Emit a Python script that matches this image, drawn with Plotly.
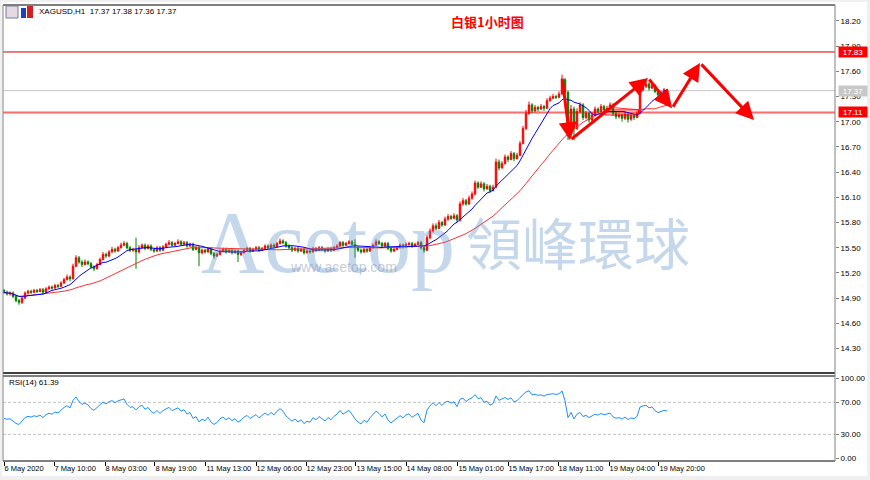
import plotly.graph_objects as go
import pandas as pd
import numpy as np

# ---------------- data ----------------
symbol_text = "XAGUSD,H1  17.37 17.38 17.36 17.37"
rsi_text = "RSI(14) 61.39"
chart_title = "白银1小时图"

open_ = [
    14.99, 14.97, 14.95, 14.96, 14.92, 14.87, 14.85, 14.90, 14.96, 14.98,
    14.97, 14.99, 14.98, 15.00, 14.97, 15.01, 15.03, 15.02, 15.05, 15.04,
    15.08, 15.12, 15.15, 15.13, 15.28, 15.38, 15.33, 15.30, 15.33, 15.31,
    15.27, 15.25, 15.30, 15.36, 15.42, 15.40, 15.45, 15.48, 15.46, 15.50,
    15.53, 15.55, 15.50, 15.47, 15.48, 15.45, 15.50, 15.53, 15.49, 15.52,
    15.48, 15.46, 15.50, 15.47, 15.51, 15.54, 15.56, 15.53, 15.55, 15.57,
    15.54, 15.56, 15.52, 15.54, 15.48, 15.50, 15.44, 15.47, 15.45, 15.49,
    15.43, 15.40, 15.42, 15.46, 15.48, 15.45, 15.47, 15.44, 15.46, 15.42,
    15.44, 15.47, 15.49, 15.46, 15.48, 15.50, 15.47, 15.49, 15.52, 15.50,
    15.53, 15.51, 15.55, 15.58, 15.56, 15.52, 15.50, 15.47, 15.49, 15.46,
    15.48, 15.44, 15.46, 15.45, 15.49, 15.47, 15.50, 15.48, 15.46, 15.49,
    15.47, 15.50, 15.52, 15.56, 15.53, 15.55, 15.57, 15.54, 15.50, 15.47,
    15.45, 15.48, 15.46, 15.50, 15.53, 15.57, 15.55, 15.52, 15.55, 15.49,
    15.46, 15.48, 15.50, 15.53, 15.51, 15.54, 15.55, 15.52, 15.54, 15.56,
    15.50, 15.47, 15.62, 15.70, 15.76, 15.73, 15.80, 15.77, 15.84, 15.87,
    15.85, 15.88, 15.83, 16.02, 16.06, 16.02, 16.09, 16.14, 16.27, 16.22,
    16.26, 16.20, 16.23, 16.18, 16.22, 16.52, 16.45, 16.50, 16.58, 16.55,
    16.62, 16.56, 16.60, 16.74, 16.92, 17.10, 17.20, 17.13, 17.17, 17.15,
    17.18, 17.16, 17.25, 17.28, 17.30, 17.29, 17.33, 17.50, 17.35, 16.95,
    17.15, 16.92, 17.12, 17.20, 17.05, 17.10, 17.02, 17.08, 17.15, 17.12,
    17.18, 17.14, 17.16, 17.20, 17.10, 17.06, 17.08, 17.04, 17.09, 17.03,
    17.07, 17.05, 17.10, 17.38, 17.42, 17.45, 17.40, 17.43, 17.36, 17.32,
    17.35, 17.37,
]
high = [
    15.01, 14.99, 14.98, 14.98, 14.94, 14.89, 14.92, 14.98, 15.00, 15.00,
    15.01, 15.01, 15.02, 15.02, 15.03, 15.05, 15.05, 15.07, 15.07, 15.10,
    15.14, 15.18, 15.17, 15.31, 15.41, 15.40, 15.35, 15.36, 15.35, 15.33,
    15.29, 15.32, 15.38, 15.45, 15.44, 15.47, 15.51, 15.50, 15.52, 15.56,
    15.58, 15.57, 15.52, 15.50, 15.62, 15.53, 15.55, 15.55, 15.54, 15.54,
    15.50, 15.52, 15.52, 15.53, 15.56, 15.59, 15.58, 15.57, 15.60, 15.59,
    15.58, 15.58, 15.56, 15.56, 15.52, 15.52, 15.49, 15.49, 15.51, 15.51,
    15.45, 15.44, 15.48, 15.50, 15.50, 15.49, 15.49, 15.48, 15.48, 15.46,
    15.49, 15.51, 15.51, 15.50, 15.52, 15.52, 15.51, 15.54, 15.54, 15.55,
    15.55, 15.57, 15.61, 15.60, 15.58, 15.54, 15.52, 15.51, 15.51, 15.50,
    15.50, 15.48, 15.48, 15.51, 15.51, 15.52, 15.52, 15.50, 15.51, 15.51,
    15.52, 15.54, 15.58, 15.58, 15.57, 15.59, 15.59, 15.60, 15.52, 15.49,
    15.50, 15.50, 15.52, 15.55, 15.60, 15.59, 15.57, 15.57, 15.57, 15.51,
    15.50, 15.52, 15.55, 15.55, 15.56, 15.57, 15.57, 15.56, 15.58, 15.58,
    15.52, 15.65, 15.73, 15.79, 15.79, 15.83, 15.82, 15.87, 15.90, 15.89,
    15.91, 15.90, 16.05, 16.09, 16.08, 16.12, 16.17, 16.30, 16.29, 16.29,
    16.28, 16.26, 16.25, 16.25, 16.56, 16.55, 16.53, 16.61, 16.60, 16.65,
    16.64, 16.63, 16.77, 16.95, 17.14, 17.24, 17.22, 17.20, 17.19, 17.21,
    17.20, 17.28, 17.31, 17.33, 17.32, 17.36, 17.56, 17.52, 17.37, 17.20,
    17.18, 17.16, 17.23, 17.22, 17.13, 17.12, 17.11, 17.18, 17.17, 17.21,
    17.20, 17.19, 17.23, 17.22, 17.12, 17.11, 17.10, 17.12, 17.11, 17.10,
    17.09, 17.13, 17.41, 17.46, 17.48, 17.47, 17.46, 17.45, 17.38, 17.37,
    17.40, 17.38,
]
low = [
    14.95, 14.93, 14.93, 14.90, 14.85, 14.82, 14.83, 14.89, 14.94, 14.95,
    14.96, 14.96, 14.97, 14.95, 14.96, 15.00, 15.00, 15.01, 15.02, 15.03,
    15.07, 15.11, 15.10, 15.12, 15.27, 15.31, 15.27, 15.29, 15.29, 15.25,
    15.22, 15.24, 15.29, 15.35, 15.38, 15.39, 15.44, 15.44, 15.45, 15.49,
    15.52, 15.48, 15.45, 15.45, 15.25, 15.43, 15.49, 15.47, 15.48, 15.46,
    15.44, 15.45, 15.45, 15.46, 15.50, 15.53, 15.51, 15.52, 15.54, 15.52,
    15.53, 15.50, 15.51, 15.46, 15.47, 15.28, 15.42, 15.43, 15.44, 15.41,
    15.37, 15.39, 15.41, 15.45, 15.43, 15.44, 15.42, 15.43, 15.33, 15.40,
    15.43, 15.46, 15.44, 15.45, 15.47, 15.45, 15.46, 15.48, 15.48, 15.49,
    15.49, 15.50, 15.54, 15.54, 15.50, 15.48, 15.45, 15.46, 15.44, 15.45,
    15.42, 15.43, 15.43, 15.44, 15.45, 15.46, 15.46, 15.44, 15.45, 15.45,
    15.46, 15.49, 15.51, 15.51, 15.52, 15.54, 15.52, 15.38, 15.45, 15.43,
    15.44, 15.44, 15.45, 15.49, 15.52, 15.53, 15.50, 15.51, 15.47, 15.44,
    15.45, 15.47, 15.49, 15.49, 15.50, 15.52, 15.50, 15.51, 15.53, 15.48,
    15.44, 15.46, 15.60, 15.68, 15.71, 15.72, 15.75, 15.76, 15.82, 15.83,
    15.84, 15.80, 15.81, 16.00, 16.00, 16.01, 16.07, 16.12, 16.20, 16.21,
    16.17, 16.19, 16.15, 16.17, 16.21, 16.42, 16.44, 16.49, 16.52, 16.54,
    16.53, 16.55, 16.59, 16.73, 16.90, 17.08, 17.10, 17.11, 17.12, 17.14,
    17.13, 17.15, 17.24, 17.27, 17.27, 17.28, 17.32, 17.30, 16.78, 16.85,
    16.78, 16.90, 17.10, 17.02, 17.03, 16.99, 17.00, 17.07, 17.10, 17.11,
    17.12, 17.12, 17.15, 17.07, 17.03, 17.04, 17.00, 17.02, 16.99, 17.01,
    17.02, 17.04, 17.09, 17.36, 17.40, 17.37, 17.39, 17.34, 17.30, 17.31,
    17.34, 17.36,
]
close = [
    14.97, 14.95, 14.96, 14.92, 14.87, 14.85, 14.90, 14.96, 14.98, 14.97,
    14.99, 14.98, 15.00, 14.97, 15.01, 15.03, 15.02, 15.05, 15.04, 15.08,
    15.12, 15.15, 15.13, 15.28, 15.38, 15.33, 15.30, 15.33, 15.31, 15.27,
    15.25, 15.30, 15.36, 15.42, 15.40, 15.45, 15.48, 15.46, 15.50, 15.53,
    15.55, 15.50, 15.47, 15.48, 15.45, 15.50, 15.53, 15.49, 15.52, 15.48,
    15.46, 15.50, 15.47, 15.51, 15.54, 15.56, 15.53, 15.55, 15.57, 15.54,
    15.56, 15.52, 15.54, 15.48, 15.50, 15.44, 15.47, 15.45, 15.49, 15.43,
    15.40, 15.42, 15.46, 15.48, 15.45, 15.47, 15.44, 15.46, 15.42, 15.44,
    15.47, 15.49, 15.46, 15.48, 15.50, 15.47, 15.49, 15.52, 15.50, 15.53,
    15.51, 15.55, 15.58, 15.56, 15.52, 15.50, 15.47, 15.49, 15.46, 15.48,
    15.44, 15.46, 15.45, 15.49, 15.47, 15.50, 15.48, 15.46, 15.49, 15.47,
    15.50, 15.52, 15.56, 15.53, 15.55, 15.57, 15.54, 15.50, 15.47, 15.45,
    15.48, 15.46, 15.50, 15.53, 15.57, 15.55, 15.52, 15.55, 15.49, 15.46,
    15.48, 15.50, 15.53, 15.51, 15.54, 15.55, 15.52, 15.54, 15.56, 15.50,
    15.47, 15.62, 15.70, 15.76, 15.73, 15.80, 15.77, 15.84, 15.87, 15.85,
    15.88, 15.83, 16.02, 16.06, 16.02, 16.09, 16.14, 16.27, 16.22, 16.26,
    16.20, 16.23, 16.18, 16.22, 16.52, 16.45, 16.50, 16.58, 16.55, 16.62,
    16.56, 16.60, 16.74, 16.92, 17.10, 17.20, 17.13, 17.17, 17.15, 17.18,
    17.16, 17.25, 17.28, 17.30, 17.29, 17.33, 17.50, 17.35, 16.95, 17.15,
    16.92, 17.12, 17.20, 17.05, 17.10, 17.02, 17.08, 17.15, 17.12, 17.18,
    17.14, 17.16, 17.20, 17.10, 17.06, 17.08, 17.04, 17.09, 17.03, 17.07,
    17.05, 17.10, 17.38, 17.42, 17.45, 17.40, 17.43, 17.36, 17.32, 17.35,
    17.38, 17.37,
]

x_tick_labels = ["6 May 2020", "7 May 10:00", "8 May 03:00", "8 May 19:00",
                 "11 May 13:00", "12 May 06:00", "12 May 23:00", "13 May 15:00",
                 "14 May 08:00", "15 May 01:00", "15 May 17:00", "18 May 11:00",
                 "19 May 04:00", "19 May 20:00"]
x_tick_bars = [0, 16.7, 33.7, 50.3, 67.3, 84.0, 100.7, 117.3, 134.0,
               151.3, 168.0, 184.7, 201.7, 218.3]
price_ticks = [14.30, 14.60, 14.90, 15.20, 15.50, 15.80, 16.10, 16.40,
               16.70, 17.00, 17.30, 17.60, 17.90, 18.20]
rsi_ticks = [0, 30, 70, 100]
rsi_levels = [30, 70]
fast_ma_period = 10
slow_ma_period = 30
rsi_period = 14
rsi_seed = 0.03

level_prices = [17.83, 17.37, 17.11]
level_colors = ["#c80000", "#c8c8c8", "#ff6a6a"]
tag_colors = ["#ff0000", "#c8c8c8", "#ff0000"]
level_widths = [1, 1, 2]

# hand-drawn forecast arrows (bar index, price)
arrow_bars = [186.0, 188.7, 214.7, 222.7, 232.0, 250.0]
arrow_prices = [17.53, 16.78, 17.52, 17.16, 17.70, 17.02]
box_bars = [200.3, 211.5]
box_prices = [17.08, 17.14]

# ---------------- indicators ----------------
c = pd.Series(close)
ma_fast = c.rolling(fast_ma_period, min_periods=1).mean()
ma_slow = c.rolling(slow_ma_period, min_periods=1).mean()
ag, al = rsi_seed, rsi_seed
rsi = [50.0]
for i in range(1, len(close)):
    d = close[i] - close[i - 1]
    ag = (ag * (rsi_period - 1) + max(d, 0)) / rsi_period
    al = (al * (rsi_period - 1) + max(-d, 0)) / rsi_period
    rsi.append(100 - 100 / (1 + ag / al) if al > 0 else 100)

bars = list(range(len(close)))

# ---------------- geometry ----------------
W, H = 870, 480
ML, MR, MTOP, MB = 3, 35, 5, 19
PW = W - ML - MR
PH = H - MTOP - MB


def fx(p):
    return (p - ML) / PW


def fy(p):
    return (H - MB - p) / PH


BAR_PX = 3.0
x0 = -(4 - ML) / BAR_PX
xrange = [x0, x0 + PW / BAR_PX]
main_dom = [fy(373), 1]
rsi_dom = [0, fy(376)]
pr_per_px = 1 / 84.0
y_top = 17.0 + (121.7 - 5) * pr_per_px
y_bot = 17.0 - (373 - 121.7) * pr_per_px
rsi_top = 100 + (378.3 - 376) / 0.8
rsi_bot = 0 - (461 - 458.3) / 0.8

FONT = "Liberation Sans"

fig = go.Figure()

fig.add_trace(go.Candlestick(
    x=bars, open=open_, high=high, low=low, close=close,
    increasing=dict(line=dict(color="#ff0000", width=1), fillcolor="#ff0000"),
    decreasing=dict(line=dict(color="#008000", width=1), fillcolor="#008000"),
    whiskerwidth=0, xaxis="x", yaxis="y", showlegend=False, hoverinfo="skip"))
fig.add_trace(go.Scatter(x=bars, y=ma_slow, mode="lines",
                         line=dict(color="#ff3030", width=1), xaxis="x", yaxis="y",
                         showlegend=False, hoverinfo="skip"))
fig.add_trace(go.Scatter(x=bars, y=ma_fast, mode="lines",
                         line=dict(color="#0000ff", width=1), xaxis="x", yaxis="y",
                         showlegend=False, hoverinfo="skip"))
fig.add_trace(go.Scatter(x=bars, y=rsi, mode="lines",
                         line=dict(color="#1e90ff", width=1), xaxis="x2", yaxis="y2",
                         showlegend=False, hoverinfo="skip"))

shapes = []
annotations = []

# outer window frame (light grey strips)
for (a, b, c0, d) in [(0, 2, 0, 480), (867, 870, 0, 480), (0, 870, 0, 2), (0, 870, 476, 480)]:
    shapes.append(dict(type="rect", xref="paper", yref="paper", x0=fx(a), x1=fx(b),
                       y0=fy(d), y1=fy(c0), line=dict(width=0), fillcolor="#f0f0f0", layer="below"))

# level lines
for p, col, tcol, w in zip(level_prices, level_colors, tag_colors, level_widths):
    shapes.append(dict(type="line", xref="paper", yref="y", x0=0, x1=1, y0=p, y1=p,
                       line=dict(color=col, width=w), layer="below"))
    annotations.append(dict(xref="paper", yref="y", x=1, y=p, xanchor="left", yanchor="middle",
                            xshift=3, text=f"{p:.2f}", showarrow=False, width=28, height=10,
                            bgcolor=tcol, borderpad=0,
                            font=dict(family=FONT, size=8, color="white")))

# RSI levels
for lv in rsi_levels:
    shapes.append(dict(type="line", xref="paper", yref="y2", x0=0, x1=1, y0=lv, y1=lv,
                       line=dict(color="#c0c0c0", width=1, dash="3px,2px"), layer="below"))

# panel frames
shapes += [
    dict(type="line", xref="paper", yref="paper", x0=0, x1=1, y0=1, y1=1, line=dict(color="#000", width=1)),
    dict(type="line", xref="paper", yref="paper", x0=0, x1=1, y0=main_dom[0], y1=main_dom[0], line=dict(color="#000", width=1.5)),
    dict(type="line", xref="paper", yref="paper", x0=0, x1=1, y0=rsi_dom[1], y1=rsi_dom[1], line=dict(color="#000", width=1)),
    dict(type="line", xref="paper", yref="paper", x0=0, x1=1, y0=0, y1=0, line=dict(color="#000", width=1)),
    dict(type="line", xref="paper", yref="paper", x0=1, x1=1, y0=0, y1=1, line=dict(color="#808080", width=1)),
    dict(type="line", xref="paper", yref="paper", x0=0, x1=0, y0=0, y1=1, line=dict(color="#808080", width=1)),
]

# box of drawn objects
shapes.append(dict(type="rect", xref="x", yref="y", x0=box_bars[0], x1=box_bars[1],
                   y0=box_prices[0], y1=box_prices[1], line=dict(color="#ff0000", width=1)))

# arrows
for k in range(len(arrow_bars) - 1):
    annotations.append(dict(xref="x", yref="y", axref="x", ayref="y",
                            x=arrow_bars[k + 1], y=arrow_prices[k + 1],
                            ax=arrow_bars[k], ay=arrow_prices[k],
                            showarrow=True, arrowhead=2, arrowsize=1.2, arrowwidth=3,
                            arrowcolor="#ff0000", text=""))

# watermark
wm = "rgba(95,145,200,0.36)"
annotations += [
    dict(xref="paper", yref="paper", x=fx(328), y=fy(243), xanchor="center", yanchor="middle",
         text="Acetop", showarrow=False,
         font=dict(family="Liberation Serif", size=88, color=wm)),
    dict(xref="paper", yref="paper", x=fx(578), y=fy(240), xanchor="center", yanchor="middle",
         text="領峰環球", showarrow=False,
         font=dict(family="Noto Sans CJK TC", size=56, color=wm)),
    dict(xref="paper", yref="paper", x=fx(343), y=fy(267), xanchor="center", yanchor="middle",
         text="www.acetop.com", showarrow=False,
         font=dict(family=FONT, size=14, color="rgba(120,140,165,0.45)")),
]

# texts
annotations += [
    dict(xref="paper", yref="paper", x=fx(37), y=fy(12), xanchor="left", yanchor="middle",
         text=symbol_text, showarrow=False, font=dict(family=FONT, size=8, color="#000")),
    dict(xref="paper", yref="paper", x=fx(7), y=fy(382), xanchor="left", yanchor="middle",
         text=rsi_text, showarrow=False, font=dict(family=FONT, size=8, color="#000")),
    dict(xref="paper", yref="paper", x=fx(487), y=fy(21), xanchor="center", yanchor="middle",
         text=f"<b>{chart_title}</b>", showarrow=False,
         font=dict(family="Noto Sans CJK SC", size=13, color="#ff0000")),
]

# header icons
shapes += [
    dict(type="rect", xref="paper", yref="paper", x0=fx(6), x1=fx(18), y0=fy(18), y1=fy(6),
         line=dict(color="#7080a0", width=1), fillcolor="#e8d8e0"),
    dict(type="rect", xref="paper", yref="paper", x0=fx(21), x1=fx(26), y0=fy(18), y1=fy(8),
         line=dict(width=0), fillcolor="#2040c0"),
    dict(type="rect", xref="paper", yref="paper", x0=fx(27), x1=fx(33), y0=fy(18), y1=fy(6),
         line=dict(width=0), fillcolor="#d02020"),
]

axis_font = dict(family=FONT, size=8, color="#000")
x_font = dict(family=FONT, size=7.5, color="#000")
fig.update_layout(
    width=W, height=H, margin=dict(l=ML, r=MR, t=MTOP, b=MB, pad=0, autoexpand=False),
    paper_bgcolor="white", plot_bgcolor="white",
    xaxis=dict(domain=[0, 1], range=xrange, anchor="y", showticklabels=False, ticks="",
               showgrid=False, zeroline=False, rangeslider=dict(visible=False), matches="x2",
               automargin=False),
    xaxis2=dict(domain=[0, 1], range=xrange, anchor="y2", showgrid=False, zeroline=False,
                tickmode="array", tickvals=x_tick_bars, ticktext=x_tick_labels,
                ticks="outside", ticklen=4, tickcolor="#000", tickfont=x_font,
                ticklabelposition="outside right", tickangle=0, automargin=False),
    yaxis=dict(domain=main_dom, range=[y_bot, y_top], side="right", anchor="x",
               showgrid=False, zeroline=False, tickmode="array", tickvals=price_ticks,
               ticktext=[f"{t:.2f}" for t in price_ticks], ticks="outside", ticklen=3,
               tickcolor="#808080", tickfont=axis_font, automargin=False),
    yaxis2=dict(domain=rsi_dom, range=[rsi_bot, rsi_top], side="right", anchor="x2",
                showgrid=False, zeroline=False, tickmode="array", tickvals=rsi_ticks,
                ticktext=[f"{t:.2f}" for t in rsi_ticks], ticks="outside", ticklen=3,
                tickcolor="#808080", tickfont=axis_font, automargin=False),
    shapes=shapes, annotations=annotations, showlegend=False,
)

fig.write_html("out.html")
